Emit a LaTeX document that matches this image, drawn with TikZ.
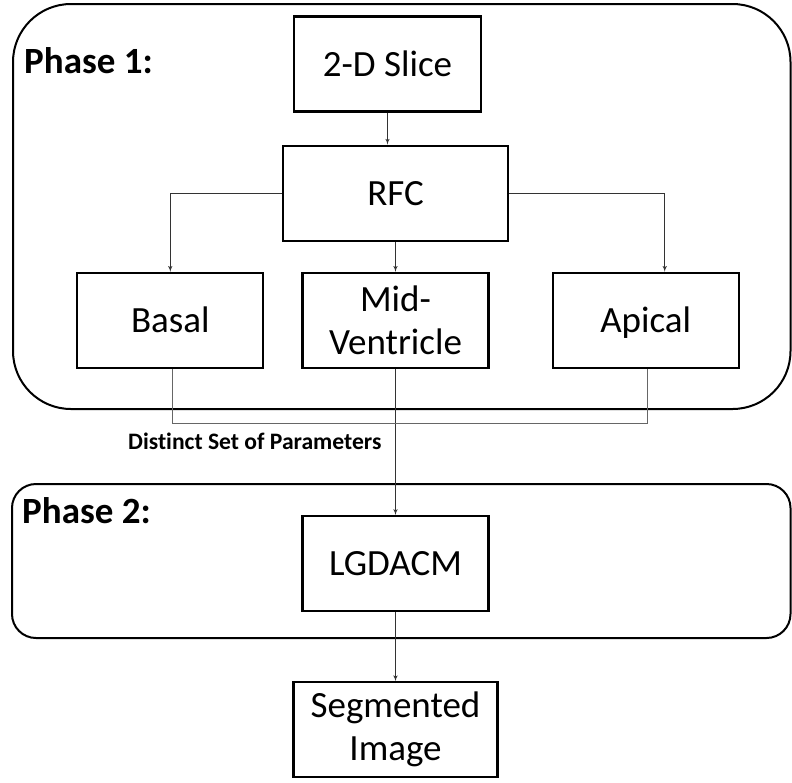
\documentclass[tikz,border=0pt]{standalone}
\usepackage{fontspec}
\setmainfont{Carlito}[Ligatures=CommonOff]
\usetikzlibrary{arrows,positioning}
\begin{document}
\begin{tikzpicture}
	[x=1pt, y=1pt, node distance = 30pt, font=\fontsize{37}{43}\selectfont,
	% STYLES
	% The block style is used for every processing step
	block/.style={rectangle, draw, line width=2.2pt, inner sep=2pt, minimum width=186pt, minimum height=95pt, align=center},
	% The oneline style keeps single words on the same baseline
	oneline/.style={text height=31.5pt, text depth=7.4pt},
	% The phase style is used for the two rounded frames
	phase/.style={draw, line width=2pt},
	% The title style is used for the phase names
	title/.style={anchor=base west, inner sep=0pt, font=\fontsize{37}{43}\selectfont\bfseries},
	% The link style is used for the thin connectors
	link/.style={draw, line width=1pt, black!80},
	arrow/.style={link, -latex'}]
	
	\useasboundingbox (0,0) rectangle (792,-782);
	
	% frames of the two phases
	\draw[phase, rounded corners=58pt] (13,-4) rectangle (790.5,-409);
	\draw[phase, rounded corners=24pt] (12,-484) rectangle (790.5,-638);
	\node[title] (PhaseOne) at (24,-73) {Phase 1:};
	\node[title] (PhaseTwo) at (22,-523) {Phase 2:};
	
	% phase 1 blocks
	\node [block, oneline, minimum width=187pt] (Slice) at (387.5,-64) {2-D Slice};
	\node [block, oneline, minimum width=225pt, below = 32pt of Slice, xshift=8pt] (RFC) {RFC};
	\node [block, below = 30pt of RFC] (Mid) {Mid-\\Ventricle};
	\node [block, oneline, left = 37pt of Mid] (Basal) {Basal};
	\node [block, oneline, right = 62pt of Mid] (Apical) {Apical};
	% phase 2 blocks
	\node [block, oneline, below = 146pt of Mid] (LGDACM) {LGDACM};
	\node [block, minimum width=204pt, below = 69pt of LGDACM] (Segmented) {Segmented\\Image};
	
	% label of the parameter bracket
	\node[anchor=base west, inner sep=0pt, font=\fontsize{23.6}{28}\selectfont\bfseries] (Params) at (128,-449) {Distinct Set of Parameters};
	
	% Draw the links between the blocks
	\draw[arrow] (Slice.south) -- (Slice.south |- RFC.north);
	\draw[arrow] (RFC.west) -| (Basal.north);
	\draw[arrow] (RFC.east) -| ([xshift=19pt]Apical.north);
	\path[arrow]
	(RFC) edge (Mid)
	(Mid) edge (LGDACM)
	(LGDACM) edge (Segmented);
	% bracket joining the three slice classes
	\draw[link, black!60] ([xshift=2pt]Basal.south) -- ++(0,-54) -| ([xshift=2pt]Apical.south);
	
\end{tikzpicture}
\end{document}
